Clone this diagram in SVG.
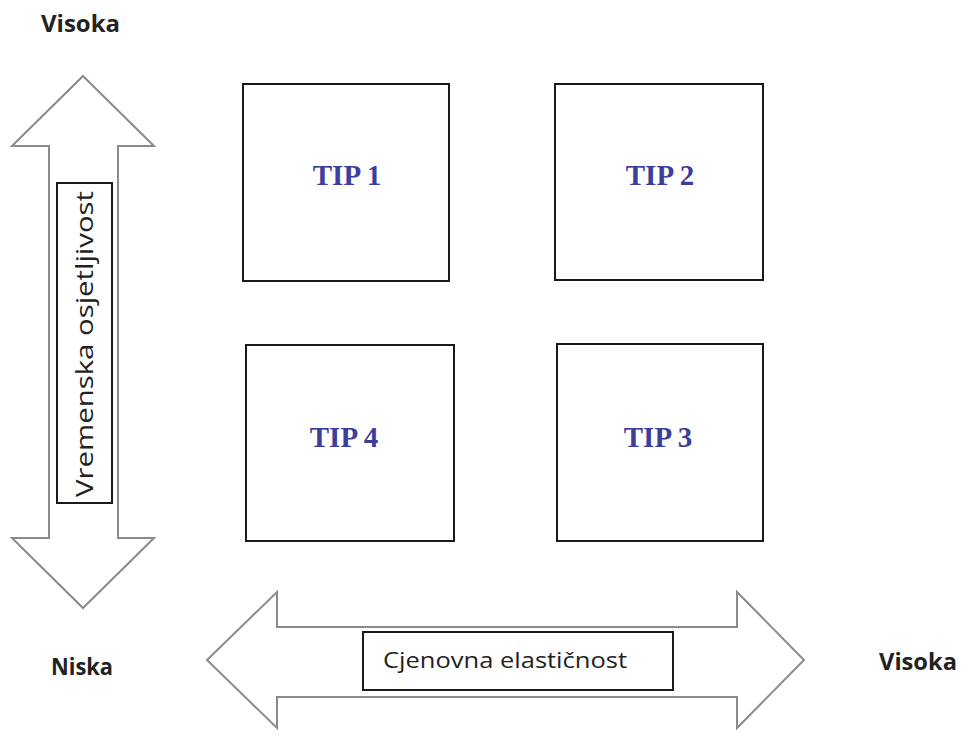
<svg xmlns="http://www.w3.org/2000/svg" width="963" height="734" viewBox="0 0 963 734">
<style>
.arrow{fill:#fff;stroke:#8a8a8a;stroke-width:2;stroke-linejoin:miter}
.box{fill:#fff;stroke:#1a1a1a;stroke-width:2}
.tip{font-family:"Liberation Serif",serif;font-weight:bold;font-size:29px;fill:#3d3d9e;text-anchor:middle}
.end{font-family:"Open Sans","Liberation Sans",sans-serif;font-weight:bold;font-size:23px;fill:#222}
.axis{font-family:"Open Sans","Liberation Sans",sans-serif;font-size:21px;fill:#222}
</style>
<rect width="963" height="734" fill="#fff"/>
<g id="connectors">
<g id="vertical-axis">
<path class="arrow" d="M83 76 L154 146 L118 146 L118 538 L154 538 L83 608 L12 538 L49 538 L49 146 L12 146 Z"/>
<rect class="box" x="57" y="183" width="55" height="320"/>
<text class="axis" style="font-size:24px" transform="translate(93 497) rotate(-90)" textLength="306" lengthAdjust="spacingAndGlyphs">Vremenska osjetljivost</text>
</g>
<g id="horizontal-axis">
<path class="arrow" d="M207 660 L277 592 L277 627 L737 627 L737 592 L804 660 L737 728 L737 697 L277 697 L277 728 Z"/>
<rect class="box" x="363" y="632" width="310" height="58"/>
<text class="axis" x="383" y="668" textLength="244" lengthAdjust="spacingAndGlyphs">Cjenovna elastičnost</text>
</g>
</g>
<g id="tip1"><rect class="box" x="243" y="84" width="206" height="197"/><text class="tip" x="347" y="185">TIP 1</text></g>
<g id="tip2"><rect class="box" x="555" y="84" width="208" height="196"/><text class="tip" x="660" y="185">TIP 2</text></g>
<g id="tip4"><rect class="box" x="246" y="345" width="208" height="196"/><text class="tip" x="344" y="447">TIP 4</text></g>
<g id="tip3"><rect class="box" x="557" y="344" width="206" height="197"/><text class="tip" x="658" y="447">TIP 3</text></g>
<g id="labels">
<text class="end" x="41" y="32" textLength="79" lengthAdjust="spacingAndGlyphs">Visoka</text>
<text class="end" x="51" y="675" textLength="62" lengthAdjust="spacingAndGlyphs">Niska</text>
<text class="end" x="879" y="670" textLength="78" lengthAdjust="spacingAndGlyphs">Visoka</text>
</g>
</svg>
